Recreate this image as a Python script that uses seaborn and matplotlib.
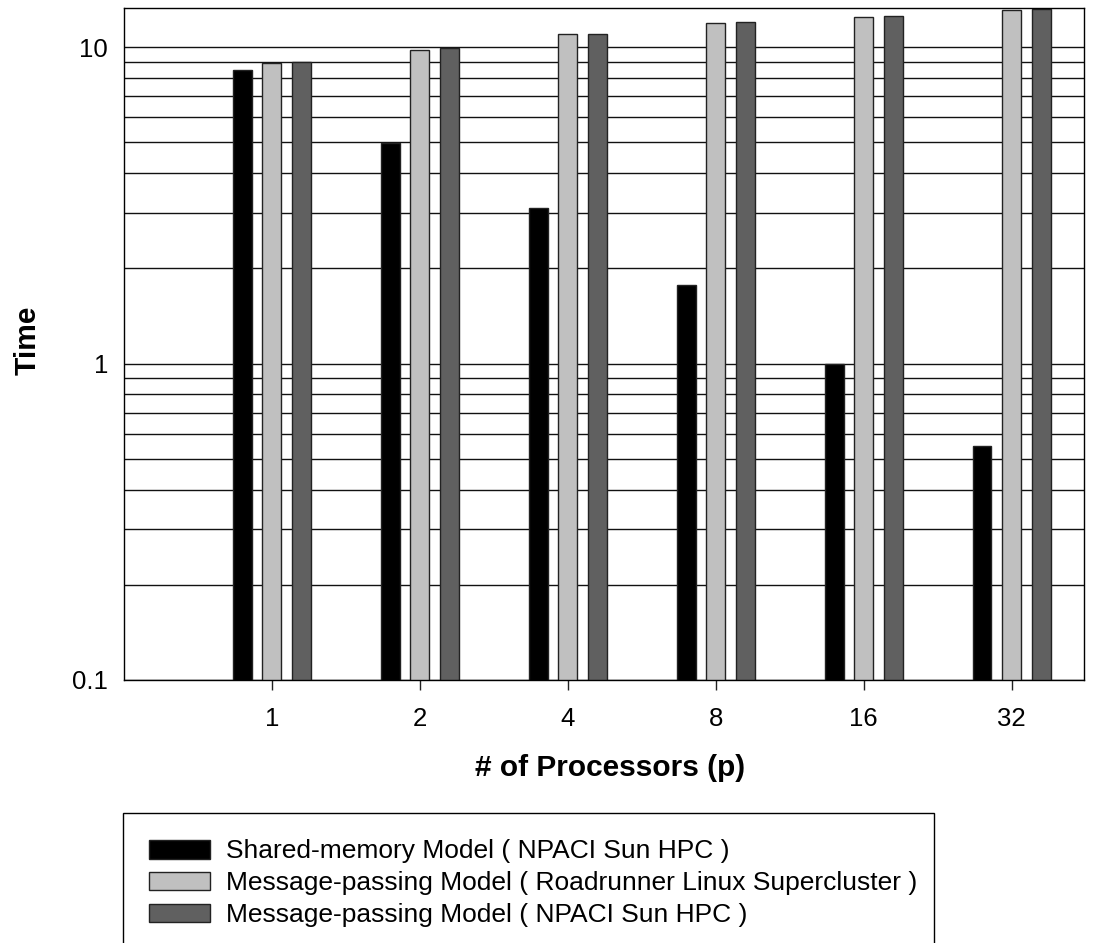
import numpy as np
import pandas as pd
import matplotlib.pyplot as plt
import seaborn as sns

# ── Dados ────────────────────────────────────────────────────────────────────
processors = ["1", "2", "4", "8", "16", "32"]
series = [
    "Shared-memory Model ( NPACI Sun HPC )",
    "Message-passing Model ( Roadrunner Linux Supercluster )",
    "Message-passing Model ( NPACI Sun HPC )",
]
shared_npaci  = [8.46, 4.98, 3.10, 1.77, 1.00, 0.55]
mp_roadrunner = [8.90, 9.80, 11.0, 11.9, 12.45, 13.1]
mp_npaci      = [8.96, 9.93, 11.0, 12.0, 12.55, 13.2]
colors = ["#000000", "#c0c0c0", "#606060"]

df = pd.DataFrame({
    "p": processors * 3,
    "time": shared_npaci + mp_roadrunner + mp_npaci,
    "model": [s for s in series for _ in processors],
})

# ── Estilo ───────────────────────────────────────────────────────────────────
sns.set_theme(style="white")
plt.rcParams["font.family"] = ["Liberation Sans", "DejaVu Sans"]
plt.rcParams["text.color"] = "black"
plt.rcParams["axes.labelcolor"] = "black"

fig = plt.figure(figsize=(10.94, 9.43), dpi=100)
ax = fig.add_axes([0.1133, 0.2789, 0.8776, 0.7126])
ax.set_yscale("log")

sns.barplot(data=df, x="p", y="time", hue="model", order=processors,
            hue_order=series, palette=colors, saturation=1, width=0.6,
            gap=0.36, edgecolor="#222222", linewidth=1, errorbar=None, ax=ax)

ax.set_xlim(-1.0, 5.49)
ax.set_ylim(0.1, 13.3)
ax.set_yticks([0.1, 1, 10])
ax.set_yticklabels(["0.1", "1", "10"])
ax.set_axisbelow(True)
ax.grid(True, which="both", axis="y", color="#111111", lw=1)
ax.grid(False, axis="x")

ax.tick_params(axis="y", which="both", length=0, pad=11.5, labelsize=18.5,
               colors="black")
ax.tick_params(axis="y", which="minor", labelleft=False)
ax.tick_params(axis="x", direction="out", length=7, width=1, pad=12.5,
               labelsize=18.5, color="#222222", labelcolor="black", bottom=True)

for sp in ax.spines.values():
    sp.set_color("black")
    sp.set_linewidth(1)

ax.set_xlabel("# of Processors (p)", fontsize=21.5, fontweight="bold")
ax.set_ylabel("Time", fontsize=21.5, fontweight="bold")
ax.xaxis.set_label_coords(0.506, -0.110)
ax.yaxis.set_label_coords(-0.086, 0.506)

handles, labels = ax.get_legend_handles_labels()
ax.get_legend().remove()
leg = fig.legend(handles, labels, loc="upper left",
                 bbox_to_anchor=(123 / 1094, 1 - 813 / 943, 811 / 1094, 0.0),
                 mode="expand", fontsize=19, frameon=True, fancybox=False,
                 edgecolor="black", framealpha=1, borderpad=1.0,
                 labelspacing=0.3, handlelength=2.3, handleheight=0.72,
                 handletextpad=0.62, borderaxespad=0)
leg.get_frame().set_linewidth(1)
for t in leg.get_texts():
    t.set_color("black")

plt.savefig("out.png", dpi=100)
